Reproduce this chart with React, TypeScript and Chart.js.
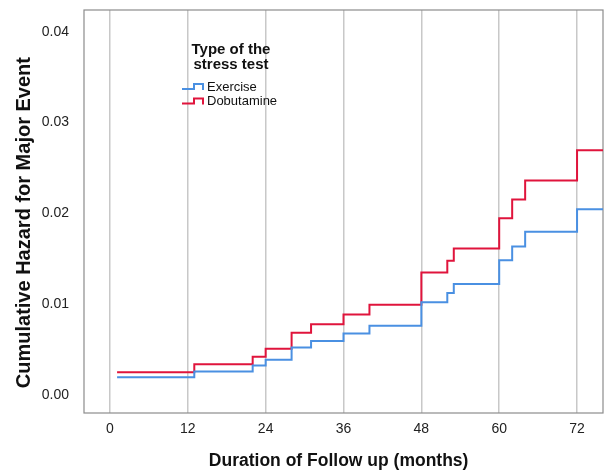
import React, { useEffect, useRef } from "react";
import { Chart, registerables } from "chart.js";

Chart.register(...registerables);

// Step times (months) and cumulative hazard values
const months = [1.1, 13, 22, 24, 28, 31, 36, 40, 48, 52, 53, 60, 62, 64, 72, 76];
const exercise = [0.00195, 0.00257, 0.00323, 0.00386, 0.00521, 0.00592, 0.00675, 0.0076, 0.01021, 0.01121, 0.0122, 0.01484, 0.01634, 0.01796, 0.02044, 0.02044];
const dobutamine = [0.0025, 0.00338, 0.00419, 0.00507, 0.00683, 0.00779, 0.00885, 0.00992, 0.01348, 0.01477, 0.01612, 0.01947, 0.02152, 0.02361, 0.02694, 0.02694];

const seriesNames = ["Exercise", "Dobutamine"];
const seriesColors = ["#4a90e2", "#e0143c"];
const legendTitle = ["Type of the", "stress test"];
const xTitle = "Duration of Follow up (months)";
const yTitle = "Cumulative Hazard for Major Event";

const FONT = "'Liberation Sans', Arial, Helvetica, sans-serif";

const boxPlugin = {
  id: "boxPlugin",
  beforeDatasetsDraw(chart: any) {
    const { ctx, chartArea } = chart;
    ctx.save();
    ctx.strokeStyle = "#8c8c8c";
    ctx.lineWidth = 1.2;
    ctx.strokeRect(chartArea.left, chartArea.top, chartArea.right - chartArea.left, chartArea.bottom - chartArea.top);
    ctx.restore();
  },
};

const legendPlugin = {
  id: "customLegend",
  afterDraw(chart: any) {
    const { ctx, chartArea } = chart;
    const x0 = chartArea.left + 98; // icon start
    const titleCx = chartArea.left + 147;
    ctx.save();
    ctx.fillStyle = "#111";
    ctx.font = `bold 15px ${FONT}`;
    ctx.textAlign = "center";
    ctx.textBaseline = "middle";
    ctx.fillText(legendTitle[0], titleCx, 50);
    ctx.fillText(legendTitle[1], titleCx, 64.5);
    ctx.font = `13px ${FONT}`;
    ctx.textAlign = "left";
    const ys = [87, 101.5];
    seriesNames.forEach((name, i) => {
      const cy = ys[i];
      ctx.strokeStyle = seriesColors[i];
      ctx.lineWidth = 2;
      ctx.beginPath();
      ctx.moveTo(x0, cy + 2);
      ctx.lineTo(x0 + 12, cy + 2);
      ctx.lineTo(x0 + 12, cy - 3);
      ctx.lineTo(x0 + 21, cy - 3);
      ctx.lineTo(x0 + 21, cy + 3);
      ctx.stroke();
      ctx.fillStyle = "#111";
      ctx.fillText(name, x0 + 25, cy);
    });
    ctx.restore();
  },
};

// Draws an axis title shifted along its own direction (keeps it real text)
export default function App() {
  const ref = useRef<HTMLCanvasElement>(null);
  useEffect(() => {
    if (!ref.current) return;
    const toPts = (vals: number[]) => months.map((m, i) => ({ x: m, y: vals[i] }));
    const chart = new Chart(ref.current, {
      type: "line",
      data: {
        datasets: [
          {
            label: seriesNames[0],
            data: toPts(exercise),
            borderColor: seriesColors[0],
            borderWidth: 2,
            stepped: "before",
            pointRadius: 0,
            fill: false,
          },
          {
            label: seriesNames[1],
            data: toPts(dobutamine),
            borderColor: seriesColors[1],
            borderWidth: 2,
            stepped: "before",
            pointRadius: 0,
            fill: false,
          },
        ],
      },
      options: {
        animation: false,
        responsive: false,
        maintainAspectRatio: false,
        layout: { padding: { top: 10, right: 2, left: 0, bottom: 0 } },
        plugins: { legend: { display: false }, tooltip: { enabled: false } },
        scales: {
          x: {
            type: "linear",
            min: -4,
            max: 76,
            afterFit: (s: any) => { s.height = 59; s.paddingLeft = 0; s.paddingRight = 0; },
            ticks: {
              stepSize: 12,
              includeBounds: false,
              padding: 8,
              color: "#222",
              font: { family: FONT, size: 14 },
            },
            grid: { display: true, color: "#c8c8c8", lineWidth: 1.5, drawTicks: false },
            border: { display: false },
            title: {
              display: true,
              text: xTitle + "  ",
              color: "#111",
              font: { family: FONT, size: 17.5, weight: "bold" },
              padding: { top: 2.5, bottom: 0 },
            },
          },
          y: {
            type: "linear",
            min: -0.002,
            max: 0.0424,
            afterFit: (s: any) => { s.width = 84; s.paddingTop = 0; s.paddingBottom = 0; },
            ticks: {
              stepSize: 0.01,
              includeBounds: false,
              padding: 15,
              color: "#222",
              font: { family: FONT, size: 14 },
              callback: (v: any) => Number(v).toFixed(2),
            },
            grid: { display: false, drawTicks: false },
            border: { display: false },
            title: {
              display: true,
              text: yTitle + "    ",
              color: "#111",
              font: { family: FONT, size: 20, weight: "bold" },
              padding: { top: 12, bottom: 0 },
            },
          },
        },
      },
      plugins: [boxPlugin, legendPlugin],
    });
    return () => chart.destroy();
  }, []);
  return (
    <div style={{ position: "fixed", left: 0, top: 0, width: 605, height: 472, background: "#fff" }}>
      <canvas ref={ref} width={605} height={472} style={{ width: 605, height: 472, display: "block" }} />
    </div>
  );
}
